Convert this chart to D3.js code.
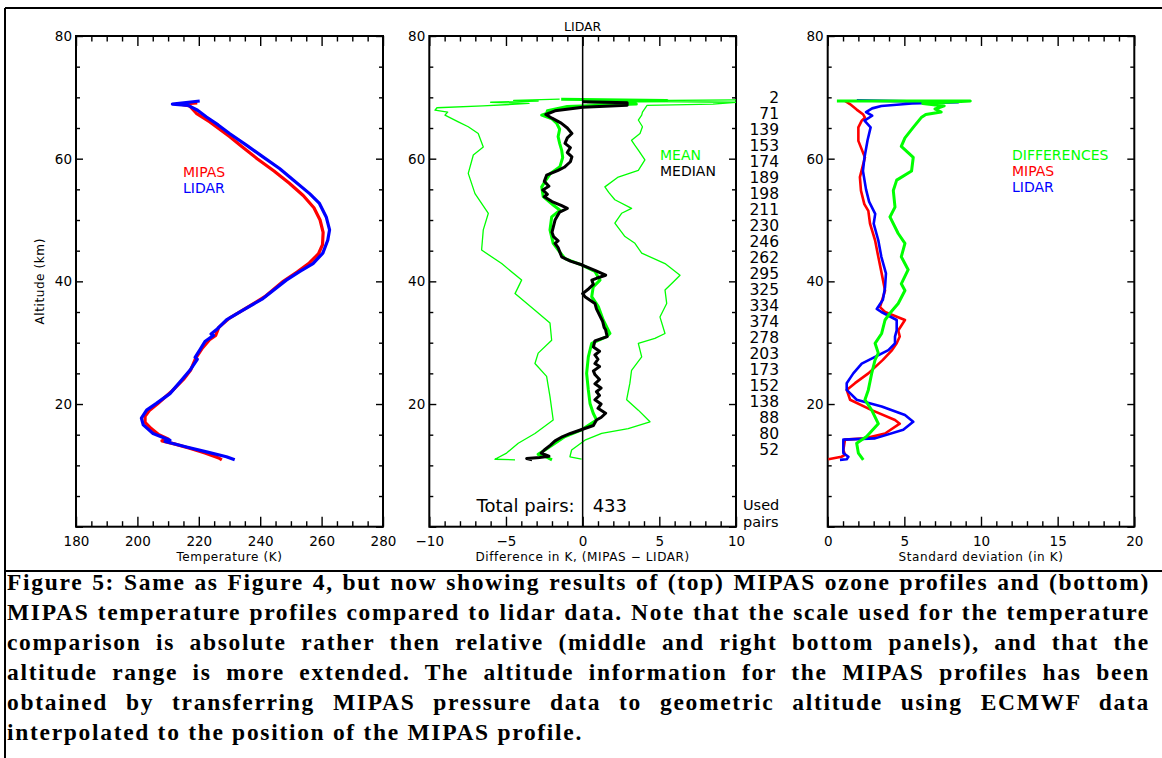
<!DOCTYPE html>
<html>
<head>
<meta charset="utf-8">
<script src="https://cdn.jsdelivr.net/npm/d3@7"></script>
<style>
  body { margin: 0; background: #fff; }
  svg { display: block; }
</style>
</head>
<body>
<div id="chart"></div>
<script>
// ---- data: [altitude km, value] ----
// left panel: temperature (K)
const lidarTemp = [[69.4,220.3],[68.9,211.4],[68.7,216.5],[67.9,219.6],[66.8,222.5],[65.5,226.3],[64.1,230],[62.2,235.5],[60.3,240.9],[58.4,246.3],[57,249.6],[54.3,256.1],[52.7,259.3],[50.5,261.5],[48.4,262.6],[46.7,262],[44.6,260.4],[42.9,257.2],[41.6,252.8],[40.2,248.5],[37.2,240.9],[35.3,234.4],[33.7,229],[32.1,225.7],[31.4,224],[31.2,224.8],[30.2,222],[28.8,220.3],[27.6,218.8],[27.3,219.5],[25.5,217.1],[23.9,214.4],[21.7,210.6],[20.1,206.2],[19,203],[17.7,201.3],[16.6,201.9],[15.2,205.1],[14.1,210.6],[13.9,209],[13,216],[12.2,222.5],[11.4,229],[10.9,231.7]];
const mipasTemp = [[69.1,219.5],[68.9,214],[68.6,217],[67.4,219.2],[66,223.6],[63.6,230],[62,234],[60,239],[58,244.5],[56,249.5],[54,254],[52,257.5],[50,259.5],[48,260.5],[46,260.3],[44.5,259],[43,256],[41.5,252],[40,247.5],[37.5,241.5],[35.5,235],[34,230],[32.5,226.5],[31.2,225.5],[30.5,223.5],[29,221],[27.5,219],[25.5,217.3],[24,215],[22,211],[20,206.5],[19,204],[18,202.5],[17,202.5],[16,204.5],[15,207],[14.3,210],[14,208],[13.5,212],[12.8,217],[12,222],[11.2,226.5],[10.9,227.5]];

// middle panel: difference (K), MIPAS - LIDAR
const diffMean = [[69.7,-1.4],[69.5,5.5],[69.3,0.3],[68.9,3.5],[68.5,-1.0],[67.8,-2.3],[67.4,-2.35],[67.1,-2.67],[66.5,-2.0],[65.8,-1.7],[64.8,-1.5],[63.6,-1.6],[62.5,-1.5],[61.4,-1.37],[60.2,-1.3],[58.7,-1.48],[57.6,-2.1],[56.5,-2.4],[55.4,-2.67],[53.8,-2.57],[52.4,-1.9],[51.6,-1.48],[50.5,-2.02],[48.4,-2.13],[46.2,-1.92],[45.1,-1.59],[43.7,-1.15],[42.7,-0.07],[41.6,0.8],[40.2,1.13],[39.1,0.69],[37.5,0.59],[35.9,1.02],[33.7,1.34],[31.5,1.78],[31.0,1.56],[29.9,0.59],[27.7,0.37],[25.0,0.26],[22.3,0.37],[20.1,0.48],[18.5,0.69],[17.4,0.91],[15.8,-0.07],[14.7,-1.15],[12.5,-2.46],[11.8,-2.9],[11.4,-2.4],[10.9,-2.0]];
const diffMedian = [[69.3,0],[69.1,2.9],[68.7,2.9],[68.4,0],[67.8,-1.8],[67.2,-2.4],[66.6,-2.0],[65.8,-1.4],[65.0,-1.0],[64.1,-0.7],[63.4,-1.0],[62.5,-1.15],[61.8,-0.8],[61.0,-1.0],[60.3,-0.7],[59.5,-0.8],[58.6,-1.2],[58.1,-1.6],[57.3,-2.35],[56.3,-2.5],[55.5,-2.2],[54.9,-2.6],[54.2,-2.3],[53.8,-2.5],[53.0,-2.0],[52.4,-1.4],[51.9,-1.0],[51.3,-1.5],[50.0,-1.8],[49.0,-1.9],[48.0,-2.0],[47.3,-1.9],[46.6,-1.6],[46.2,-1.8],[45.5,-1.6],[44.0,-1.37],[43.3,-0.8],[42.7,-0.07],[41.8,0.8],[41.0,1.5],[40.5,0.9],[40.2,0.6],[39.5,0.7],[38.8,0.4],[38.0,0.0],[37.5,0.15],[36.4,0.8],[35.5,0.9],[34.5,1.1],[33.5,1.3],[32.5,1.4],[32.1,1.5],[31.0,1.6],[30.3,0.8],[29.3,0.7],[28.6,1.1],[28.0,0.8],[27.3,1.0],[26.6,0.8],[26.1,1.1],[25.4,0.7],[24.8,0.8],[24.0,1.1],[23.3,0.8],[22.6,1.2],[22.0,0.9],[21.4,1.1],[20.7,0.8],[20.0,1.2],[19.3,1.0],[18.5,1.5],[17.8,1.2],[17.4,0.9],[16.5,0.7],[15.8,-0.1],[15.2,-0.8],[14.7,-1.3],[14.0,-1.8],[13.3,-2.1],[12.5,-2.5],[12.0,-2.7],[11.5,-2.2],[11.3,-2.8],[11.1,-3.65],[10.9,-3.3]];
const diffUpper = [[69.6,10],[69.4,1.0],[69.2,10],[68.9,8.5],[68.7,4.2],[67.6,3.9],[67.1,3.85],[66.3,3.63],[65.2,3.9],[64.1,3.74],[63.0,3.19],[62.2,3.4],[61.4,3.63],[59.8,4.06],[58.1,3.63],[57.0,2.32],[55.4,1.45],[54.5,1.7],[53.3,2.1],[51.9,3.19],[51.1,2.54],[49.5,2.1],[47.3,2.76],[46.2,3.41],[44.6,3.85],[42.9,5.37],[41.0,6.35],[39.9,5.91],[38.6,5.37],[36.4,5.48],[34.2,5.04],[31.5,5.37],[30.7,4.71],[29.9,3.63],[27.7,3.85],[25.5,3.19],[23.4,3.08],[20.7,2.87],[19.0,3.63],[17.1,4.39],[16.0,2.97],[15.2,1.24],[14.1,0.15],[12.5,-0.72],[11.4,-0.83],[11.0,-0.07]];
const diffLower = [[69.7,-1.5],[69.5,-4.5],[69.4,-2.9],[69.2,-6.0],[69.0,-3.5],[68.6,-6.5],[68.3,-9.5],[67.9,-9.63],[67.6,-8.8],[67.1,-8.98],[66.0,-8.11],[65.2,-7.46],[64.1,-6.81],[61.9,-6.48],[60.6,-7.13],[57.6,-7.46],[54.3,-7.02],[51.1,-6.15],[48.4,-6.48],[45.1,-6.59],[42.9,-5.28],[40.2,-3.98],[38.0,-4.41],[35.3,-3.11],[33.2,-2.13],[30.4,-2.02],[28.3,-2.9],[26.6,-3.11],[24.5,-2.35],[21.2,-2.13],[17.4,-1.92],[15.2,-3.11],[13.6,-4.2],[12.0,-4.96],[11.0,-5.72],[10.9,-4.41]];
const usedPairs = [2, 71, 139, 153, 174, 189, 198, 211, 230, 246, 262, 295, 325, 334, 374, 278, 203, 173, 152, 138, 88, 80, 52];
const totalPairs = 433;

// right panel: standard deviation (K)
const sdMipas = [[69.4,1.13],[68.9,1.45],[68.0,1.89],[67.2,2.32],[66.7,2.43],[66.2,2.22],[65.1,2.0],[62.9,2.0],[60.2,2.43],[57.0,2.1],[54.8,2.17],[52.6,2.39],[51.5,2.65],[49.4,2.76],[46.7,3.09],[44.0,3.3],[41.3,3.52],[38.5,3.74],[35.8,3.41],[35.0,3.74],[33.7,5.04],[32.0,4.6],[31.0,4.7],[29.9,4.5],[28.8,4.2],[27.2,3.6],[25.0,2.65],[23.4,1.78],[22.3,1.24],[20.7,1.46],[19.0,2.87],[17.4,4.39],[16.8,4.7],[15.2,3.74],[14.4,2.43],[14.2,1.13],[12.5,1.02],[11.7,1.13],[11.4,0.9],[11.0,0.04]];
const sdLidar = [[69.5,1.9],[69.2,8.5],[69.0,5.5],[68.6,3.5],[68.2,2.9],[67.6,2.5],[67.0,2.9],[66.2,2.4],[65.1,2.8],[63.0,2.6],[60.2,2.4],[58.0,2.3],[55.0,2.5],[53.0,2.7],[51.0,3.1],[49.4,3.0],[46.7,3.3],[44.0,3.5],[41.3,3.8],[39.0,3.74],[37.0,3.6],[35.5,3.2],[35.0,3.5],[33.7,4.5],[32.0,4.5],[31.0,4.39],[29.9,4.39],[28.8,3.96],[27.7,3.09],[26.6,2.22],[25.0,1.67],[23.4,1.24],[22.3,1.24],[20.7,1.89],[19.6,3.52],[18.2,5.04],[17.1,5.58],[15.8,4.93],[14.4,3.09],[14.2,1.02],[12.0,1.02],[11.4,1.35],[11.0,1.24],[10.9,0.8]];
const sdDiff = [[69.4,0.6],[69.4,9.3],[69.0,6.2],[68.6,7.6],[68.1,7.0],[67.6,7.4],[67.2,6.4],[66.7,6.1],[65.1,5.58],[63.4,5.04],[62.0,4.8],[60.2,5.58],[58.0,5.47],[56.5,4.5],[54.8,4.28],[52.1,4.39],[50.5,4.06],[47.8,4.6],[46.2,5.04],[44.0,4.8],[41.9,5.25],[39.6,4.8],[38.5,5.04],[36.4,4.6],[34.8,4.06],[33.7,3.74],[31.5,3.52],[29.9,3.09],[28.3,3.3],[27.2,3.09],[25.0,2.87],[22.3,2.65],[20.7,2.43],[19.0,2.87],[16.8,3.3],[14.7,2.54],[13.6,1.89],[12.0,2.0],[10.9,2.32]];

// ---- layout ----
const W = 1162, H = 758;
const plotTop = 36, plotBottom = 526.7;
const font = '"DejaVu Sans", sans-serif';

const svg = d3.select('#chart').append('svg')
    .attr('width', W)
    .attr('height', H);

// outer frame and caption separator
svg.append('line').attr('x1', 5).attr('x2', W).attr('y1', 8).attr('y2', 8)
    .attr('stroke', '#000').attr('stroke-width', 2);
svg.append('line').attr('x1', 5).attr('x2', 5).attr('y1', 8).attr('y2', H)
    .attr('stroke', '#000').attr('stroke-width', 2);
svg.append('line').attr('x1', 5).attr('x2', W).attr('y1', 571).attr('y2', 571)
    .attr('stroke', '#000').attr('stroke-width', 2);

function ticksFor(domain, step) {
    return d3.range(domain[0], domain[1] + step / 2, step);
}

function fmt(v) {
    return v < 0 ? '\u2212' + Math.abs(v) : String(v);
}

// Build one panel with inward ticks on all four sides
function makePanel(cfg) {
    const x = d3.scaleLinear().domain(cfg.domain).range([cfg.left, cfg.right]);
    const y = d3.scaleLinear().domain([0, 80]).range([plotBottom, plotTop]);
    const g = svg.append('g');

    const styleAxis = sel => {
        sel.select('.domain').remove();
        sel.selectAll('line').attr('stroke', '#000').attr('stroke-width', 1.4);
        sel.selectAll('text').attr('font-family', font).attr('font-size', 13.5).attr('fill', '#000');
    };

    const xMajor = ticksFor(cfg.domain, cfg.major);
    const xMinor = ticksFor(cfg.domain, cfg.minor).filter(v => !xMajor.includes(v));
    const yMajor = ticksFor([0, 80], 20);
    const yMinor = ticksFor([0, 80], 5).filter(v => !yMajor.includes(v));

    g.append('g').attr('transform', `translate(0,${plotBottom})`)
        .call(d3.axisBottom(x).tickValues(xMajor).tickSizeInner(-10).tickSizeOuter(0)
            .tickPadding(10).tickFormat(fmt))
        .call(styleAxis);
    g.append('g').attr('transform', `translate(0,${plotBottom})`)
        .call(d3.axisBottom(x).tickValues(xMinor).tickSize(-5.5).tickFormat(''))
        .call(styleAxis);
    g.append('g').attr('transform', `translate(0,${plotTop})`)
        .call(d3.axisTop(x).tickValues(xMajor).tickSize(-10).tickFormat(''))
        .call(styleAxis);
    g.append('g').attr('transform', `translate(0,${plotTop})`)
        .call(d3.axisTop(x).tickValues(xMinor).tickSize(-5.5).tickFormat(''))
        .call(styleAxis);

    g.append('g').attr('transform', `translate(${cfg.left},0)`)
        .call(d3.axisLeft(y).tickValues(yMajor).tickSizeInner(-7).tickSizeOuter(0)
            .tickPadding(4).tickFormat(v => v === 0 ? '' : v))
        .call(styleAxis);
    g.append('g').attr('transform', `translate(${cfg.left},0)`)
        .call(d3.axisLeft(y).tickValues(yMinor).tickSize(-4).tickFormat(''))
        .call(styleAxis);
    g.append('g').attr('transform', `translate(${cfg.right},0)`)
        .call(d3.axisRight(y).tickValues(yMajor).tickSize(-7).tickFormat(''))
        .call(styleAxis);
    g.append('g').attr('transform', `translate(${cfg.right},0)`)
        .call(d3.axisRight(y).tickValues(yMinor).tickSize(-4).tickFormat(''))
        .call(styleAxis);

    g.append('rect')
        .attr('x', cfg.left).attr('y', plotTop)
        .attr('width', cfg.right - cfg.left).attr('height', plotBottom - plotTop)
        .attr('fill', 'none').attr('stroke', '#000').attr('stroke-width', 2);

    // x axis title
    g.append('text')
        .attr('x', (cfg.left + cfg.right) / 2).attr('y', 561)
        .attr('text-anchor', 'middle')
        .attr('font-family', font).attr('font-size', 12).attr('letter-spacing', 0.6)
        .text(cfg.xTitle);

    const clipId = 'clip-' + cfg.id;
    svg.append('clipPath').attr('id', clipId).append('rect')
        .attr('x', cfg.left).attr('y', plotTop)
        .attr('width', cfg.right - cfg.left).attr('height', plotBottom - plotTop);
    const plot = g.append('g').attr('clip-path', `url(#${clipId})`);

    return { x, y, g, plot };
}

function drawLine(p, data, color, width) {
    const line = d3.line().x(d => p.x(d[1])).y(d => p.y(d[0]));
    p.plot.append('path')
        .datum(data)
        .attr('d', line)
        .attr('fill', 'none')
        .attr('stroke', color)
        .attr('stroke-width', width)
        .attr('stroke-linejoin', 'round');
}

function legend(p, x, y0, items) {
    items.forEach(([label, color], i) => {
        p.g.append('text')
            .attr('x', x).attr('y', y0 + i * 16)
            .attr('font-family', font).attr('font-size', 14)
            .attr('fill', color)
            .text(label);
    });
}

// ---- left panel: temperature ----
const p1 = makePanel({ id: 't', domain: [180, 280], major: 20, minor: 5,
    left: 76, right: 383, xTitle: 'Temperature (K)' });
drawLine(p1, mipasTemp, '#ff0000', 3.2);
drawLine(p1, lidarTemp, '#0000ff', 3.2);
legend(p1, 183, 176.7, [['MIPAS', '#ff0000'], ['LIDAR', '#0000ff']]);

svg.append('text')
    .attr('transform', `translate(44,${(plotTop + plotBottom) / 2}) rotate(-90)`)
    .attr('text-anchor', 'middle')
    .attr('font-family', font).attr('font-size', 12).attr('letter-spacing', 0.6)
    .text('Altitude (km)');

// ---- middle panel: differences ----
const p2 = makePanel({ id: 'd', domain: [-10, 10], major: 5, minor: 1,
    left: 429.3, right: 736, xTitle: 'Difference in K, (MIPAS \u2212 LIDAR)' });
p2.g.append('line')
    .attr('x1', p2.x(0)).attr('x2', p2.x(0))
    .attr('y1', plotTop).attr('y2', plotBottom)
    .attr('stroke', '#000').attr('stroke-width', 1.5);
drawLine(p2, diffUpper, '#00ff00', 1.3);
drawLine(p2, diffLower, '#00ff00', 1.3);
drawLine(p2, diffMean, '#00ff00', 3);
drawLine(p2, diffMedian, '#000000', 3);
legend(p2, 660, 160, [['MEAN', '#00ff00'], ['MEDIAN', '#000000']]);

p2.g.append('text')
    .attr('x', p2.x(0)).attr('y', 30.7)
    .attr('text-anchor', 'middle')
    .attr('font-family', font).attr('font-size', 12.5)
    .text('LIDAR');

p2.g.append('text')
    .attr('x', p2.x(0) - 8).attr('y', 511.7)
    .attr('text-anchor', 'end')
    .attr('font-family', font).attr('font-size', 18)
    .text('Total pairs:');
p2.g.append('text')
    .attr('x', p2.x(0) + 10).attr('y', 511.7)
    .attr('font-family', font).attr('font-size', 18)
    .text(totalPairs);

// used pairs column, one row per 16 px starting near 70 km
const rowTop = p2.y(69.9);
p2.g.selectAll('text.pairs')
    .data(usedPairs)
    .join('text')
    .attr('class', 'pairs')
    .attr('x', 779)
    .attr('y', (d, i) => rowTop + i * 16 + 5.5)
    .attr('text-anchor', 'end')
    .attr('font-family', font).attr('font-size', 15.5)
    .text(d => d);
['Used', 'pairs'].forEach((t, i) => {
    p2.g.append('text')
        .attr('x', 743).attr('y', 509.5 + i * 17)
        .attr('font-family', font).attr('font-size', 14.5)
        .text(t);
});

// ---- right panel: standard deviation ----
const p3 = makePanel({ id: 's', domain: [0, 20], major: 5, minor: 1,
    left: 827.7, right: 1134.3, xTitle: 'Standard deviation (in K)' });
drawLine(p3, sdMipas, '#ff0000', 2.6);
drawLine(p3, sdLidar, '#0000ff', 2.6);
drawLine(p3, sdDiff, '#00ff00', 3);
legend(p3, 1012, 160, [['DIFFERENCES', '#00ff00'], ['MIPAS', '#ff0000'], ['LIDAR', '#0000ff']]);

// ---- caption: one text per line, justified with word-spacing ----
const captionLines = [
    'Figure 5: Same as Figure 4, but now showing results of (top) MIPAS ozone profiles and (bottom)',
    'MIPAS temperature profiles compared to lidar data. Note that the scale used for the temperature',
    'comparison is absolute rather then relative (middle and right bottom panels), and that the',
    'altitude range is more extended. The altitude information for the MIPAS profiles has been',
    'obtained by transferring MIPAS pressure data to geometric altitude using ECMWF data',
    'interpolated to the position of the MIPAS profile.'
];
const capLeft = 7, capRight = 1150, capTop = 590, capStep = 30, lastLineWidth = 576;
const capFont = '"Liberation Serif", "Times New Roman", serif';
const cap = svg.append('g')
    .attr('font-family', capFont).attr('font-size', 23.5).attr('font-weight', 'bold');

// letter spacing chosen so the unjustified last line has the reference width
const lastText = captionLines[captionLines.length - 1];
const probe = cap.append('text').text(lastText);
const lastW = probe.node().getComputedTextLength();
probe.remove();
const ls = Math.max(0, Math.min(3, (lastLineWidth - lastW) / lastText.length));

captionLines.forEach((ln, i) => {
    const t = cap.append('text')
        .attr('x', capLeft)
        .attr('y', capTop + i * capStep)
        .attr('letter-spacing', ls)
        .text(ln);
    if (i === captionLines.length - 1) return;
    const natural = t.node().getComputedTextLength();
    const spaces = ln.split(' ').length - 1;
    t.attr('word-spacing', (capRight - capLeft - natural) / spaces);
});
</script>
</body>
</html>
